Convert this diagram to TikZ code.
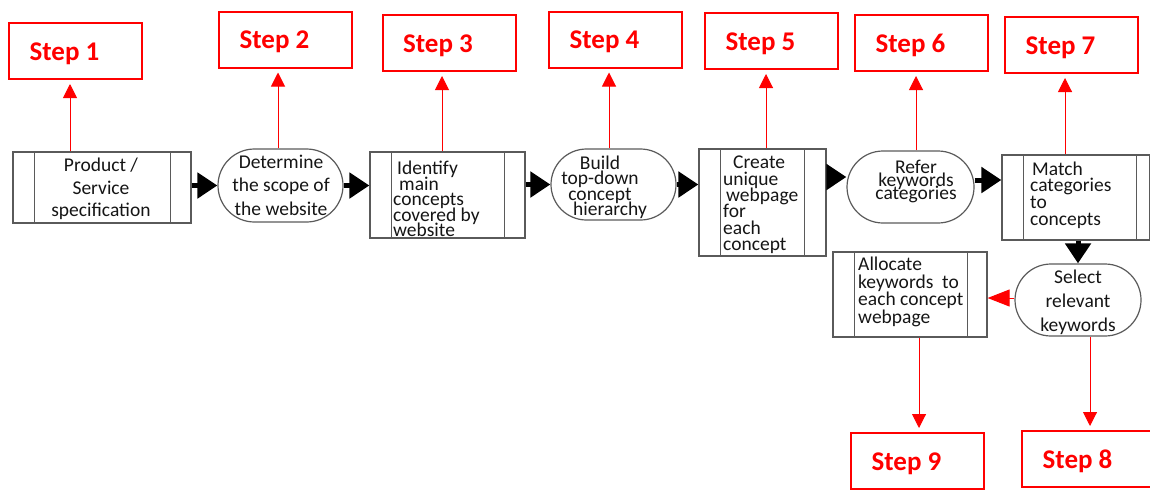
\documentclass[tikz,border=0pt]{standalone}
\usepackage{fontspec}
\setmainfont{Carlito}
\usetikzlibrary{arrows.meta,shapes.misc}
\definecolor{boxgray}{HTML}{5A5A5A}
\definecolor{stepred}{HTML}{FF0000}
\definecolor{ink}{HTML}{151515}
\newcommand{\txtfont}[1]{\fontsize{19.5}{#1}\selectfont\lineskiplimit=-50pt\relax}
\tikzset{
  proc/.style={draw=boxgray, line width=1.2pt, inner sep=0pt},
  term/.style={draw=boxgray, line width=1.2pt, rounded rectangle, inner sep=0pt},
  innerline/.style={draw=boxgray, line width=1.2pt},
  txt/.style={inner sep=0pt, text=ink},
  flow/.style={line width=5pt, -{Triangle[length=20pt,width=25pt]}, black},
  redflow/.style={line width=1pt, -{Triangle[length=22pt,width=17pt]}, stepred},
  stepline/.style={draw=stepred, line width=1pt, -{Triangle[length=14pt,width=14pt]}, shorten >=4pt},
  stepbox/.style={draw=stepred, line width=2pt, text=stepred, font=\fontsize{27}{30}\selectfont\bfseries, minimum width=133pt, minimum height=56pt, inner sep=0pt},
}
\newcommand{\steplabel}[1]{\raisebox{-9pt}[0pt][0pt]{#1\hspace*{22pt}}}
\begin{document}
\begin{tikzpicture}[x=1pt,y=-1pt]
\useasboundingbox (0,0) rectangle (1150,491);

% process shapes
\node[proc, minimum width=178pt, minimum height=71pt] (b1) at (102,187.5) {};
\node[term, minimum width=125pt, minimum height=73pt] (st2) at (280.5,185.5) {};
\node[proc, minimum width=155pt, minimum height=86pt] (b3) at (447.5,195) {};
\node[term, minimum width=125pt, minimum height=71pt] (st4) at (613.5,184.5) {};
\node[proc, minimum width=127pt, minimum height=107pt] (b5) at (762.5,202.5) {};
\node[term, minimum width=127pt, minimum height=72pt] (st6) at (910.5,187) {};
\node[proc, minimum width=148pt, minimum height=85pt] (b7) at (1076,197.5) {};
\node[term, minimum width=126pt, minimum height=72pt] (st8) at (1078,300) {};
\node[proc, minimum width=154pt, minimum height=85pt] (b9) at (910,294.5) {};

% inner vertical lines of process boxes
\draw[innerline] ([xshift=22pt]b1.north west) -- ([xshift=22pt]b1.south west);
\draw[innerline] ([xshift=-21pt]b1.north east) -- ([xshift=-21pt]b1.south east);
\draw[innerline] ([xshift=22pt]b3.north west) -- ([xshift=22pt]b3.south west);
\draw[innerline] ([xshift=-21pt]b3.north east) -- ([xshift=-21pt]b3.south east);
\draw[innerline] ([xshift=22pt]b5.north west) -- ([xshift=22pt]b5.south west);
\draw[innerline] ([xshift=-22pt]b5.north east) -- ([xshift=-22pt]b5.south east);
\draw[innerline] ([xshift=22pt]b7.north west) -- ([xshift=22pt]b7.south west);
\draw[innerline] ([xshift=-14pt]b7.north east) -- ([xshift=-14pt]b7.south east);
\draw[innerline] ([xshift=22pt]b9.north west) -- ([xshift=22pt]b9.south west);
\draw[innerline] ([xshift=-20pt]b9.north east) -- ([xshift=-20pt]b9.south east);

% texts
\node[txt, align=center, font=\txtfont{22.5}] (t1) at (101,189) {Product /\\Service\\specification};
\node[txt, align=center, font=\txtfont{23.5}] (t2) at (281,185) {Determine\\the scope of\\the website};
\node[txt, align=left, anchor=west, font=\txtfont{15.5}] (t3) at (393,199) {\hspace*{4pt}Identify\\\hspace*{6pt}main\\concepts\\covered by\\website};
\node[txt, align=center, font=\txtfont{15.5}] (t4) at (600,187.5) {Build\\top-down\\concept\\\hspace*{20pt}hierarchy};
\node[txt, align=left, anchor=west, font=\txtfont{16.4}] (t5) at (723,205) {\hspace*{10pt}Create\\unique\\\hspace*{3pt}webpage\\for\\each\\concept};
\node[txt, align=center, font=\txtfont{13}] (t6) at (916,181) {Refer\\keywords\\categories};
\node[txt, align=left, anchor=west, font=\txtfont{16.7}] (t7) at (1030,195) {\hspace*{2pt}Match\\categories\\to\\concepts};
\node[txt, align=center, font=\txtfont{24}] (t8) at (1078,302) {Select\\relevant\\keywords};
\node[txt, align=left, anchor=west, font=\txtfont{17.7}] (t9) at (858,292) {Allocate\\keywords\ \ to\\each concept\\webpage};

% black flow arrows
\draw[flow] (b1.east |- st2.west) -- (st2.west);
\draw[flow] (st2.east) -- (st2.east -| b3.west);
\draw[flow] (st4.west -| b3.east) -- (st4.west);
\draw[flow] (st4.east) -- (st4.east -| b5.west);
\draw[flow] ([yshift=10pt]st6.west -| b5.east) -- ([yshift=10pt]st6.west);
\draw[flow] ([yshift=7pt]st6.east) -- ([yshift=7pt]st6.east -| b7.west);
\draw[flow] (st8.north |- b7.south) -- (st8.north);
\draw[redflow] ([yshift=2pt]st8.west) -- ([yshift=2pt]st8.west -| b9.east);

% step boxes
\node[stepbox] (s1) at (75.5,51) {\steplabel{Step 1}};
\node[stepbox] (s2) at (285.5,39.5) {\steplabel{Step 2}};
\node[stepbox] (s3) at (449,43) {\steplabel{Step 3}};
\node[stepbox] (s4) at (615.5,39.5) {\steplabel{Step 4}};
\node[stepbox] (s5) at (771.5,41) {\steplabel{Step 5}};
\node[stepbox] (s6) at (921.5,43) {\steplabel{Step 6}};
\node[stepbox] (s7) at (1071.5,45) {\steplabel{Step 7}};
\node[stepbox] (s8) at (1088.5,459) {\steplabel{Step 8}};
\node[stepbox] (s9) at (917.5,461) {\steplabel{Step 9}};

% red step arrows
\draw[stepline] ([xshift=-5.5pt]s1.south |- b1.north) -- ([xshift=-5.5pt]s1.south);
\draw[stepline] ([xshift=-7.5pt]s2.south |- st2.north) -- ([xshift=-7.5pt]s2.south);
\draw[stepline] ([xshift=-7pt]s3.south |- b3.north) -- ([xshift=-7pt]s3.south);
\draw[stepline] ([xshift=-6.5pt]s4.south |- st4.north) -- ([xshift=-6.5pt]s4.south);
\draw[stepline] ([xshift=-5.5pt]s5.south |- b5.north) -- ([xshift=-5.5pt]s5.south);
\draw[stepline] ([xshift=-5.5pt]s6.south |- st6.north) -- ([xshift=-5.5pt]s6.south);
\draw[stepline] ([xshift=-6.5pt]s7.south |- b7.north) -- ([xshift=-6.5pt]s7.south);
\draw[stepline] ([xshift=1.5pt]s8.north |- st8.south) -- ([xshift=1.5pt]s8.north);
\draw[stepline] ([xshift=1.5pt]s9.north |- b9.south) -- ([xshift=1.5pt]s9.north);
\end{tikzpicture}
\end{document}
